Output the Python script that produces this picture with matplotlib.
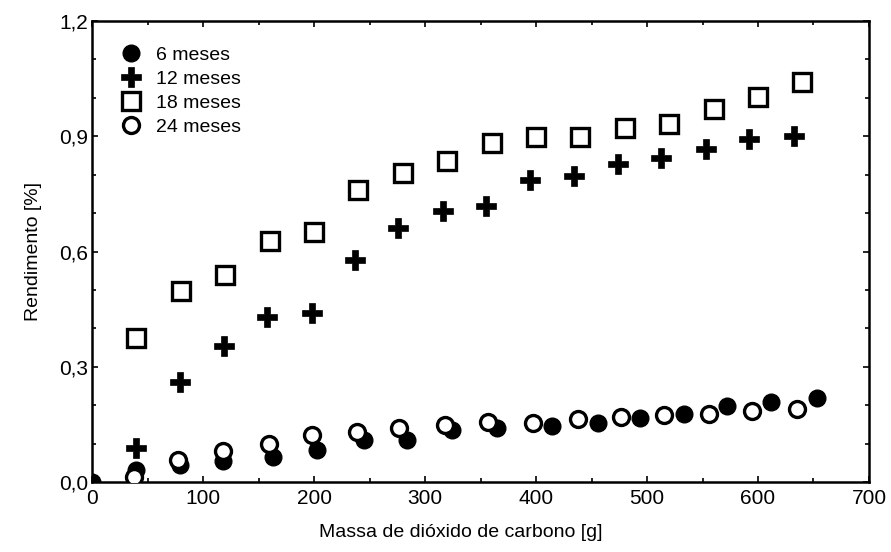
import matplotlib
matplotlib.use("Agg")
import matplotlib.pyplot as plt
from matplotlib.ticker import MultipleLocator, FuncFormatter

plt.rcParams['font.family'] = ['Liberation Sans', 'DejaVu Sans']

# 6 meses (filled circles)
x6 = [0, 40, 79, 118, 163, 203, 245, 284, 324, 365, 414, 456, 494, 533, 572, 612, 653]
y6 = [0.0, 0.030, 0.045, 0.055, 0.065, 0.083, 0.109, 0.109, 0.135, 0.141, 0.146, 0.154, 0.167, 0.178, 0.198, 0.208, 0.219]

# 12 meses (plus)
x12 = [40, 79, 119, 158, 198, 237, 276, 316, 355, 395, 434, 474, 513, 553, 592, 632]
y12 = [0.088, 0.26, 0.355, 0.43, 0.44, 0.578, 0.661, 0.706, 0.719, 0.786, 0.797, 0.828, 0.843, 0.867, 0.893, 0.901]

# 18 meses (open squares)
x18 = [40, 80, 120, 160, 200, 240, 280, 320, 360, 400, 440, 480, 520, 560, 600, 640]
y18 = [0.375, 0.497, 0.54, 0.627, 0.651, 0.76, 0.805, 0.836, 0.883, 0.898, 0.898, 0.922, 0.932, 0.97, 1.003, 1.042]

# 24 meses (open circles)
x24 = [38, 77, 118, 159, 198, 239, 277, 318, 357, 397, 438, 477, 515, 556, 595, 635]
y24 = [0.012, 0.058, 0.080, 0.100, 0.122, 0.130, 0.141, 0.148, 0.155, 0.154, 0.163, 0.169, 0.174, 0.178, 0.184, 0.190]

labels = ["6 meses", "12 meses", "18 meses", "24 meses"]
xlabel = "Massa de dióxido de carbono [g]"
ylabel = "Rendimento [%]"

fig = plt.figure(figsize=(8.91, 5.52), dpi=100)
ax = fig.add_axes([0.1033, 0.1268, 0.872, 0.835])

ax.plot(x6, y6, linestyle='none', marker='o', markersize=12, color='black',
        markerfacecolor='black', markeredgecolor='black', label=labels[0], zorder=3)
ax.plot(x12, y12, linestyle='none', marker='P', markersize=14, color='black',
        markerfacecolor='black', markeredgecolor='black', markeredgewidth=0.5, label=labels[1], zorder=3)
ax.plot(x18, y18, linestyle='none', marker='s', markersize=13, color='black',
        markerfacecolor='none', markeredgecolor='black', markeredgewidth=2.4, label=labels[2], zorder=3)
ax.plot(x24, y24, linestyle='none', marker='o', markersize=11.5, color='black',
        markerfacecolor='white', markeredgecolor='black', markeredgewidth=2.4, label=labels[3], zorder=4)

ax.set_xlim(0, 700)
ax.set_ylim(0, 1.2)
ax.xaxis.set_major_locator(MultipleLocator(100))
ax.xaxis.set_minor_locator(MultipleLocator(50))
ax.yaxis.set_major_locator(MultipleLocator(0.3))
ax.yaxis.set_minor_locator(MultipleLocator(0.1))
ax.yaxis.set_major_formatter(FuncFormatter(lambda v, p: f"{v:.1f}".replace('.', ',')))

ax.tick_params(which='both', direction='in', top=True, right=True, width=1.2, labelsize=15)
ax.tick_params(which='major', length=4)
ax.tick_params(which='minor', length=3)
ax.tick_params(axis='x', pad=5)
ax.tick_params(axis='y', pad=3)
for s in ax.spines.values():
    s.set_linewidth(1.8)

ax.set_xlabel(xlabel, fontsize=14, labelpad=10)
ax.xaxis.set_label_coords(0.474, -0.092)
ax.set_ylabel(ylabel, fontsize=14, labelpad=12)

ax.legend(loc='upper left', frameon=False, fontsize=14, handlelength=1.0,
          handletextpad=0.8, labelspacing=0.33, borderaxespad=0.3,
          bbox_to_anchor=(0.02, 0.975))

fig.savefig("out.png", dpi=100)
